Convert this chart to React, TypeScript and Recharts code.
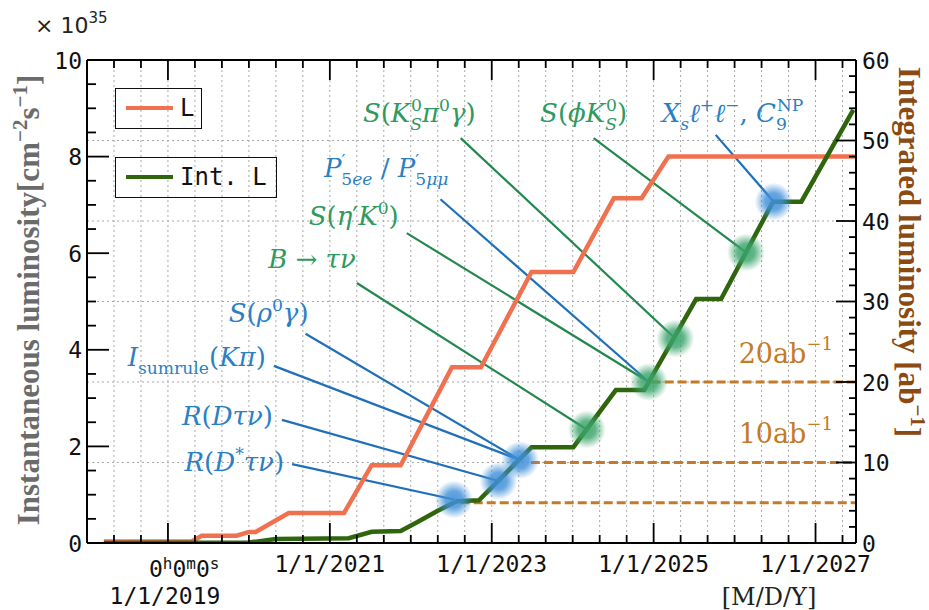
import React from 'react';
import { LineChart, Line, XAxis, YAxis, CartesianGrid, ReferenceLine, ReferenceDot, Legend } from 'recharts';

// ---------- data (x = months since 1/1/2018) ----------
const instMonths = [2.5, 15.5, 17, 22.2, 24, 25, 29.9, 38.1, 42.2, 46.5, 54.1, 58.4, 65.9, 72.1, 78.1, 82.2, 86.2, 114];
const instLumi = [0.03, 0.03, 0.15, 0.15, 0.23, 0.23, 0.62, 0.62, 1.61, 1.61, 3.64, 3.64, 5.61, 5.61, 7.14, 7.14, 8.0, 8.0];

const intMonths = [2.5, 24, 28, 38.8, 42.2, 46.5, 49, 52, 54.8, 58.1, 65.9, 72.1, 78.4, 82.6, 90.3, 94.0, 101.7, 105.9, 113.6];
const intLumi = [0, 0.05, 0.5, 0.6, 1.4, 1.5, 2.6, 4.0, 5.2, 5.3, 11.9, 11.9, 19.0, 19.0, 30.3, 30.3, 42.4, 42.4, 53.8];

const xTicks = [0, 4, 8, 12, 16, 20, 24, 28, 32, 36, 40, 44, 48, 52, 56, 60, 64, 68, 72, 76, 80, 84, 88, 92, 96, 100, 104, 108, 112];
const xMajor = [12, 36, 60, 84, 108];
const xTickLabels = ['1/1/2019', '1/1/2021', '1/1/2023', '1/1/2025', '1/1/2027'];

const leftTicks = [0, 0.5, 1, 1.5, 2, 2.5, 3, 3.5, 4, 4.5, 5, 5.5, 6, 6.5, 7, 7.5, 8, 8.5, 9, 9.5, 10];
const leftMajor = [0, 2, 4, 6, 8, 10];
const rightTicks = [0, 2, 4, 6, 8, 10, 12, 14, 16, 18, 20, 22, 24, 26, 28, 30, 32, 34, 36, 38, 40, 42, 44, 46, 48, 50, 52, 54, 56, 58, 60];
const rightMajor = [0, 10, 20, 30, 40, 50, 60];
const gridValues = [10, 20, 30, 40, 50];

// milestone lines (integrated luminosity, ab^-1)
const milestoneValues = [5, 10, 20];
const milestoneStart = [55.4, 65.8, 83.7];
const milestoneLabels = ['10ab', '20ab'];
const milestoneLabelValues = [12.4, 22.3];

// physics annotations
const annNames = ['R(D*τν)', 'R(Dτν)', 'I_sumrule(Kπ)', 'S(ρ0γ)', 'B→τν', "S(η'K0)", "P'5ee/P'5μμ", 'S(KS0π0γ)', 'S(φKS0)', 'Xsℓ+ℓ−,C9NP'];
const annFromMonth = [30.4, 28.9, 27.7, 32.4, 40.0, 47.4, 52.4, 55.4, 75.1, 93.2];
const annFromLumi = [9.8, 15.3, 22.0, 26.0, 32.3, 38.5, 42.7, 50.3, 50.3, 50.7];
const annToMonth = [54.4, 61.0, 64.2, 64.2, 74.1, 83.3, 83.3, 87.2, 97.7, 101.8];
const annToLumi = [5.4, 7.7, 10.3, 10.3, 14.1, 20.0, 20.0, 25.4, 36.1, 42.4];
const annGroup = ['b', 'b', 'b', 'b', 'g', 'g', 'b', 'g', 'g', 'b'];

const blobMonths = [54.4, 61.0, 64.2, 74.1, 83.3, 87.2, 97.7, 101.8];
const blobLumi = [5.4, 7.7, 10.3, 14.1, 20.0, 25.4, 36.1, 42.4];
const blobGroup = ['b', 'b', 'b', 'g', 'g', 'g', 'g', 'b'];

// ---------- styles ----------
const ORANGE = '#f0714f';
const DKGREEN = '#2f650c';
const BLUE_TXT = '#2a80c5';
const BLUE_LN = '#1f6fb9';
const GREEN_TXT = '#2e9a5e';
const GREEN_LN = '#23884d';
const BROWN = '#c47a26';
const MATH = "'DejaVu Serif', serif";
const MONO = "'DejaVu Sans Mono', monospace";
const TITLE = "'Liberation Serif', serif";

type Part = { t: string; lvl?: number; up?: boolean; dx?: number };

const parts: Part[][] = [
  [{ t: 'R' }, { t: '(', up: true }, { t: 'D' }, { t: '*', lvl: 1, up: true }, { t: 'τν' }, { t: ')', up: true }],
  [{ t: 'R' }, { t: '(', up: true }, { t: 'Dτν' }, { t: ')', up: true }],
  [{ t: 'I' }, { t: 'sumrule', lvl: -1, up: true }, { t: '(', up: true }, { t: 'Kπ' }, { t: ')', up: true }],
  [{ t: 'S' }, { t: '(', up: true }, { t: 'ρ' }, { t: '0', lvl: 1, up: true }, { t: 'γ' }, { t: ')', up: true }],
  [{ t: 'B' }, { t: ' → ', up: true }, { t: 'τν' }],
  [{ t: 'S' }, { t: '(', up: true }, { t: 'η' }, { t: '′', up: true }, { t: 'K' }, { t: '0', lvl: 1, up: true }, { t: ')', up: true }],
  [{ t: 'P' }, { t: '′', lvl: 1, up: true }, { t: '5', lvl: -1, up: true, dx: -4 }, { t: 'ee', lvl: -1 }, { t: ' / ', up: true }, { t: 'P' }, { t: '′', lvl: 1, up: true }, { t: '5', lvl: -1, up: true, dx: -4 }, { t: 'μμ', lvl: -1 }],
  [{ t: 'S' }, { t: '(', up: true }, { t: 'K' }, { t: 'S', lvl: -1 }, { t: '0', lvl: 1, up: true, dx: -11 }, { t: 'π' }, { t: '0', lvl: 1, up: true }, { t: 'γ' }, { t: ')', up: true }],
  [{ t: 'S' }, { t: '(', up: true }, { t: 'ϕK' }, { t: 'S', lvl: -1 }, { t: '0', lvl: 1, up: true, dx: -11 }, { t: ')', up: true }],
  [{ t: 'X' }, { t: 's', lvl: -1 }, { t: 'ℓ' }, { t: '+', lvl: 1, up: true }, { t: 'ℓ' }, { t: '−', lvl: 1, up: true }, { t: ', ', up: true }, { t: 'C' }, { t: '9', lvl: -1, up: true }, { t: 'NP', lvl: 1, up: true, dx: -10 }],
];
// text placement relative to line start (px)
const labelDx = [-8, -9, -8, 3, -1, -8, 8, 15, -10, -54];
const labelDy = [7, 5, 0, -12, -15, -8, -22, -16, -16, -13];
const labelAnchor = ['end', 'end', 'end', 'end', 'end', 'end', 'end', 'end', 'middle', 'start'];

function MathText({ x, y, p, fill, size, anchor }: any) {
  let cur = 0;
  const spans = p.map((s: Part, i: number) => {
    const lvl = s.lvl ?? 0;
    const fs = lvl === 0 ? size : size * 0.66;
    const off = lvl > 0 ? -0.42 * size : lvl < 0 ? 0.3 * size : 0;
    const dy = off - cur;
    cur = off;
    return (
      <tspan key={i} dy={dy} dx={s.dx ?? 0} fontSize={fs} fontStyle={s.up ? 'normal' : 'italic'}>
        {s.t}
      </tspan>
    );
  });
  return (
    <text x={x} y={y} fill={fill} fontFamily={MATH} fontSize={size} textAnchor={anchor}>
      {spans}
    </text>
  );
}

const instData = instMonths.map((m, i) => ({ m, v: instLumi[i] }));
const intData = intMonths.map((m, i) => ({ m, v: intLumi[i] }));

const BottomTick = (p: any) => {
  const v = p.payload.value;
  const x = p.x;
  const y = p.y;
  const k = xMajor.indexOf(v);
  const major = k >= 0;
  return (
    <g>
      <line x1={x} x2={x} y1={y} y2={y - (major ? 20 : 8)} stroke="#000" strokeWidth={1.8} />
      {major && k === 0 && (
        <g fontFamily={MONO} fill="#111">
          <text x={x - 19} y={y + 34} fontSize={23}>
            <tspan>0</tspan>
            <tspan dy={-8} fontSize={16}>h</tspan>
            <tspan dy={8}>0</tspan>
            <tspan dy={-8} fontSize={16}>m</tspan>
            <tspan dy={8}>0</tspan>
            <tspan dy={-8} fontSize={16}>s</tspan>
          </text>
          <text x={x - 3} y={y + 61} fontSize={23} textAnchor="middle">{xTickLabels[0]}</text>
        </g>
      )}
      {major && k > 0 && (
        <text x={x} y={y + 29} fontSize={23} fontFamily={MONO} fill="#111" textAnchor="middle">
          {xTickLabels[k]}
        </text>
      )}
    </g>
  );
};

const TopTick = (p: any) => {
  const major = xMajor.includes(p.payload.value);
  return <line x1={p.x} x2={p.x} y1={p.y} y2={p.y + (major ? 20 : 8)} stroke="#000" strokeWidth={1.8} />;
};

const LeftTick = (p: any) => {
  const v = p.payload.value;
  const major = leftMajor.includes(v);
  return (
    <g>
      <line x1={p.x} x2={p.x + (major ? 22 : 9)} y1={p.y} y2={p.y} stroke="#000" strokeWidth={1.8} />
      {major && (
        <text x={p.x - 5} y={p.y + 8.5} fontSize={23} fontFamily={MONO} fill="#111" textAnchor="end">{v}</text>
      )}
    </g>
  );
};

const RightTick = (p: any) => {
  const v = p.payload.value;
  const major = rightMajor.includes(v);
  return (
    <g>
      <line x1={p.x} x2={p.x - (major ? 20 : 7)} y1={p.y} y2={p.y} stroke="#000" strokeWidth={1.8} />
      {major && (
        <text x={p.x + 6} y={p.y + 8.5} fontSize={23} fontFamily={MONO} fill="#111" textAnchor="start">{v}</text>
      )}
    </g>
  );
};

const legendItems = [
  { name: 'L', color: ORANGE, w: 87 },
  { name: 'Int. L', color: DKGREEN, w: 162 },
];

const LegendBoxes = () => (
  <div style={{ position: 'relative', width: 170, height: 112 }}>
    {legendItems.map((it, i) => (
      <div
        key={it.name}
        style={{
          position: 'absolute',
          left: 0,
          top: i * 69,
          width: it.w,
          height: 41,
          border: '1.5px solid #111',
          boxSizing: 'border-box',
        }}
      >
        <div style={{ position: 'absolute', left: 10, top: 16.5, width: 47, height: 4.5, background: it.color }} />
        <div
          style={{
            position: 'absolute',
            left: 64,
            top: 0,
            lineHeight: '39px',
            fontFamily: MONO,
            fontSize: 24,
            color: '#111',
            whiteSpace: 'pre',
          }}
        >
          {it.name}
        </div>
      </div>
    ))}
  </div>
);

const glowShape = (g: string) => (p: any) => (
  <circle cx={p.cx} cy={p.cy} r={19} fill={g === 'b' ? 'url(#glowBlue)' : 'url(#glowGreen)'} />
);

const labelShape = (i: number) => (p: any) => (
  <MathText
    x={p.cx + labelDx[i]}
    y={p.cy + labelDy[i]}
    p={parts[i]}
    fill={annGroup[i] === 'b' ? BLUE_TXT : GREEN_TXT}
    size={26}
    anchor={labelAnchor[i]}
  />
);

const milestoneShape = (i: number) => (p: any) => (
  <text x={p.cx} y={p.cy} fill={BROWN} fontFamily={MATH} fontSize={27}>
    {milestoneLabels[i]}
    <tspan dy={-13} fontSize={18}>−1</tspan>
  </text>
);

export default function App() {
  return (
    <div style={{ position: 'absolute', left: 0, top: 0, width: 929, height: 610, background: '#fff' }}>
      <LineChart width={929} height={610} margin={{ top: 40, right: 0, bottom: 0, left: 0 }}>
        <defs>
          <radialGradient id="glowBlue">
            <stop offset="0%" stopColor="#3f8fd8" stopOpacity={0.9} />
            <stop offset="45%" stopColor="#3f8fd8" stopOpacity={0.8} />
            <stop offset="100%" stopColor="#3f8fd8" stopOpacity={0} />
          </radialGradient>
          <radialGradient id="glowGreen">
            <stop offset="0%" stopColor="#3aa36a" stopOpacity={0.9} />
            <stop offset="45%" stopColor="#3aa36a" stopOpacity={0.8} />
            <stop offset="100%" stopColor="#3aa36a" stopOpacity={0} />
          </radialGradient>
        </defs>
        <XAxis
          xAxisId="b"
          type="number"
          dataKey="m"
          domain={[0, 114]}
          ticks={xTicks}
          interval={0}
          allowDataOverflow
          height={67}
          tickSize={0}
          tickMargin={0}
          tickLine={false}
          axisLine={{ stroke: '#000', strokeWidth: 2 }}
          tick={BottomTick}
        />
        <XAxis
          xAxisId="t"
          orientation="top"
          type="number"
          dataKey="m"
          domain={[0, 114]}
          ticks={xTicks}
          interval={0}
          allowDataOverflow
          height={20}
          tickSize={0}
          tickMargin={0}
          tickLine={false}
          axisLine={{ stroke: '#000', strokeWidth: 2 }}
          tick={TopTick}
        />
        <YAxis
          yAxisId="l"
          orientation="left"
          type="number"
          domain={[0, 10]}
          ticks={leftTicks}
          interval={0}
          allowDataOverflow
          width={87}
          tickSize={0}
          tickMargin={0}
          tickLine={false}
          axisLine={{ stroke: '#000', strokeWidth: 2 }}
          tick={LeftTick}
        />
        <YAxis
          yAxisId="r"
          orientation="right"
          type="number"
          domain={[0, 60]}
          ticks={rightTicks}
          interval={0}
          allowDataOverflow
          width={73}
          tickSize={0}
          tickMargin={0}
          tickLine={false}
          axisLine={{ stroke: '#000', strokeWidth: 2 }}
          tick={RightTick}
        />
        <CartesianGrid
          xAxisId="b"
          yAxisId="r"
          horizontalValues={gridValues}
          verticalValues={xTicks}
          stroke="#a8a8a8"
          strokeDasharray="2 3"
          strokeWidth={1}
        />
        <Legend layout="vertical" align="center" verticalAlign="middle" content={<LegendBoxes />} wrapperStyle={{ left: 115, top: 88, width: 170, height: 112 }} />

        {milestoneValues.map((v, i) => (
          <ReferenceLine
            key={'ms' + i}
            xAxisId="b"
            yAxisId="r"
            segment={[{ x: milestoneStart[i], y: v }, { x: 114, y: v }]}
            stroke={BROWN}
            strokeWidth={2.8}
            strokeDasharray="9 4"
            strokeOpacity={1}
          />
        ))}
        {annNames.map((n, i) => (
          <ReferenceLine
            key={'al' + n}
            xAxisId="b"
            yAxisId="r"
            segment={[{ x: annFromMonth[i], y: annFromLumi[i] }, { x: annToMonth[i], y: annToLumi[i] }]}
            stroke={annGroup[i] === 'b' ? BLUE_LN : GREEN_LN}
            strokeWidth={2.2}
          />
        ))}

        <Line xAxisId="b" yAxisId="l" data={instData} dataKey="v" type="linear" stroke={ORANGE} strokeWidth={4.5} dot={false} isAnimationActive={false} name="L" />
        <Line xAxisId="b" yAxisId="r" data={intData} dataKey="v" type="linear" stroke={DKGREEN} strokeWidth={4.5} dot={false} isAnimationActive={false} name="Int. L" />

        {blobMonths.map((m, i) => (
          <ReferenceDot key={'bl' + i} xAxisId="b" yAxisId="r" x={m} y={blobLumi[i]} r={19} shape={glowShape(blobGroup[i])} />
        ))}
        {annNames.map((n, i) => (
          <ReferenceDot key={'lb' + n} xAxisId="b" yAxisId="r" x={annFromMonth[i]} y={annFromLumi[i]} r={0} shape={labelShape(i)} />
        ))}
        {milestoneLabels.map((n, i) => (
          <ReferenceDot key={'ml' + n} xAxisId="b" yAxisId="r" x={96.6} y={milestoneLabelValues[i]} r={0} shape={milestoneShape(i)} />
        ))}
      </LineChart>

      <svg width={929} height={610} style={{ position: 'absolute', left: 0, top: 0, pointerEvents: 'none' }}>
        <text x={35} y={33} fontFamily="'DejaVu Sans', sans-serif" fontSize={22} fill="#222">
          × 10<tspan dy={-10} fontSize={15}>35</tspan>
        </text>
        <text
          x={39}
          y={300}
          transform="rotate(-90 39 300)"
          textAnchor="middle"
          fontFamily={TITLE}
          fontWeight="bold"
          fontSize={31}
          fill="#6b6b6b"
        >
          Instantaneous luminosity[cm<tspan dy={-12} fontSize={21}>−2</tspan>
          <tspan dy={12}>s</tspan>
          <tspan dy={-12} fontSize={21}>−1</tspan>
          <tspan dy={12}>]</tspan>
        </text>
        <text
          x={899}
          y={252}
          transform="rotate(90 899 252)"
          textAnchor="middle"
          fontFamily={TITLE}
          fontWeight="bold"
          fontSize={31}
          fill="#8a4a12"
        >
          Integrated luminosity [ab<tspan dy={-12} fontSize={21}>−1</tspan>
          <tspan dy={12}>]</tspan>
        </text>
        <text x={769} y={605} textAnchor="middle" fontFamily={MATH} fontSize={24} fill="#222">
          [M/D/Y]
        </text>
      </svg>
    </div>
  );
}
